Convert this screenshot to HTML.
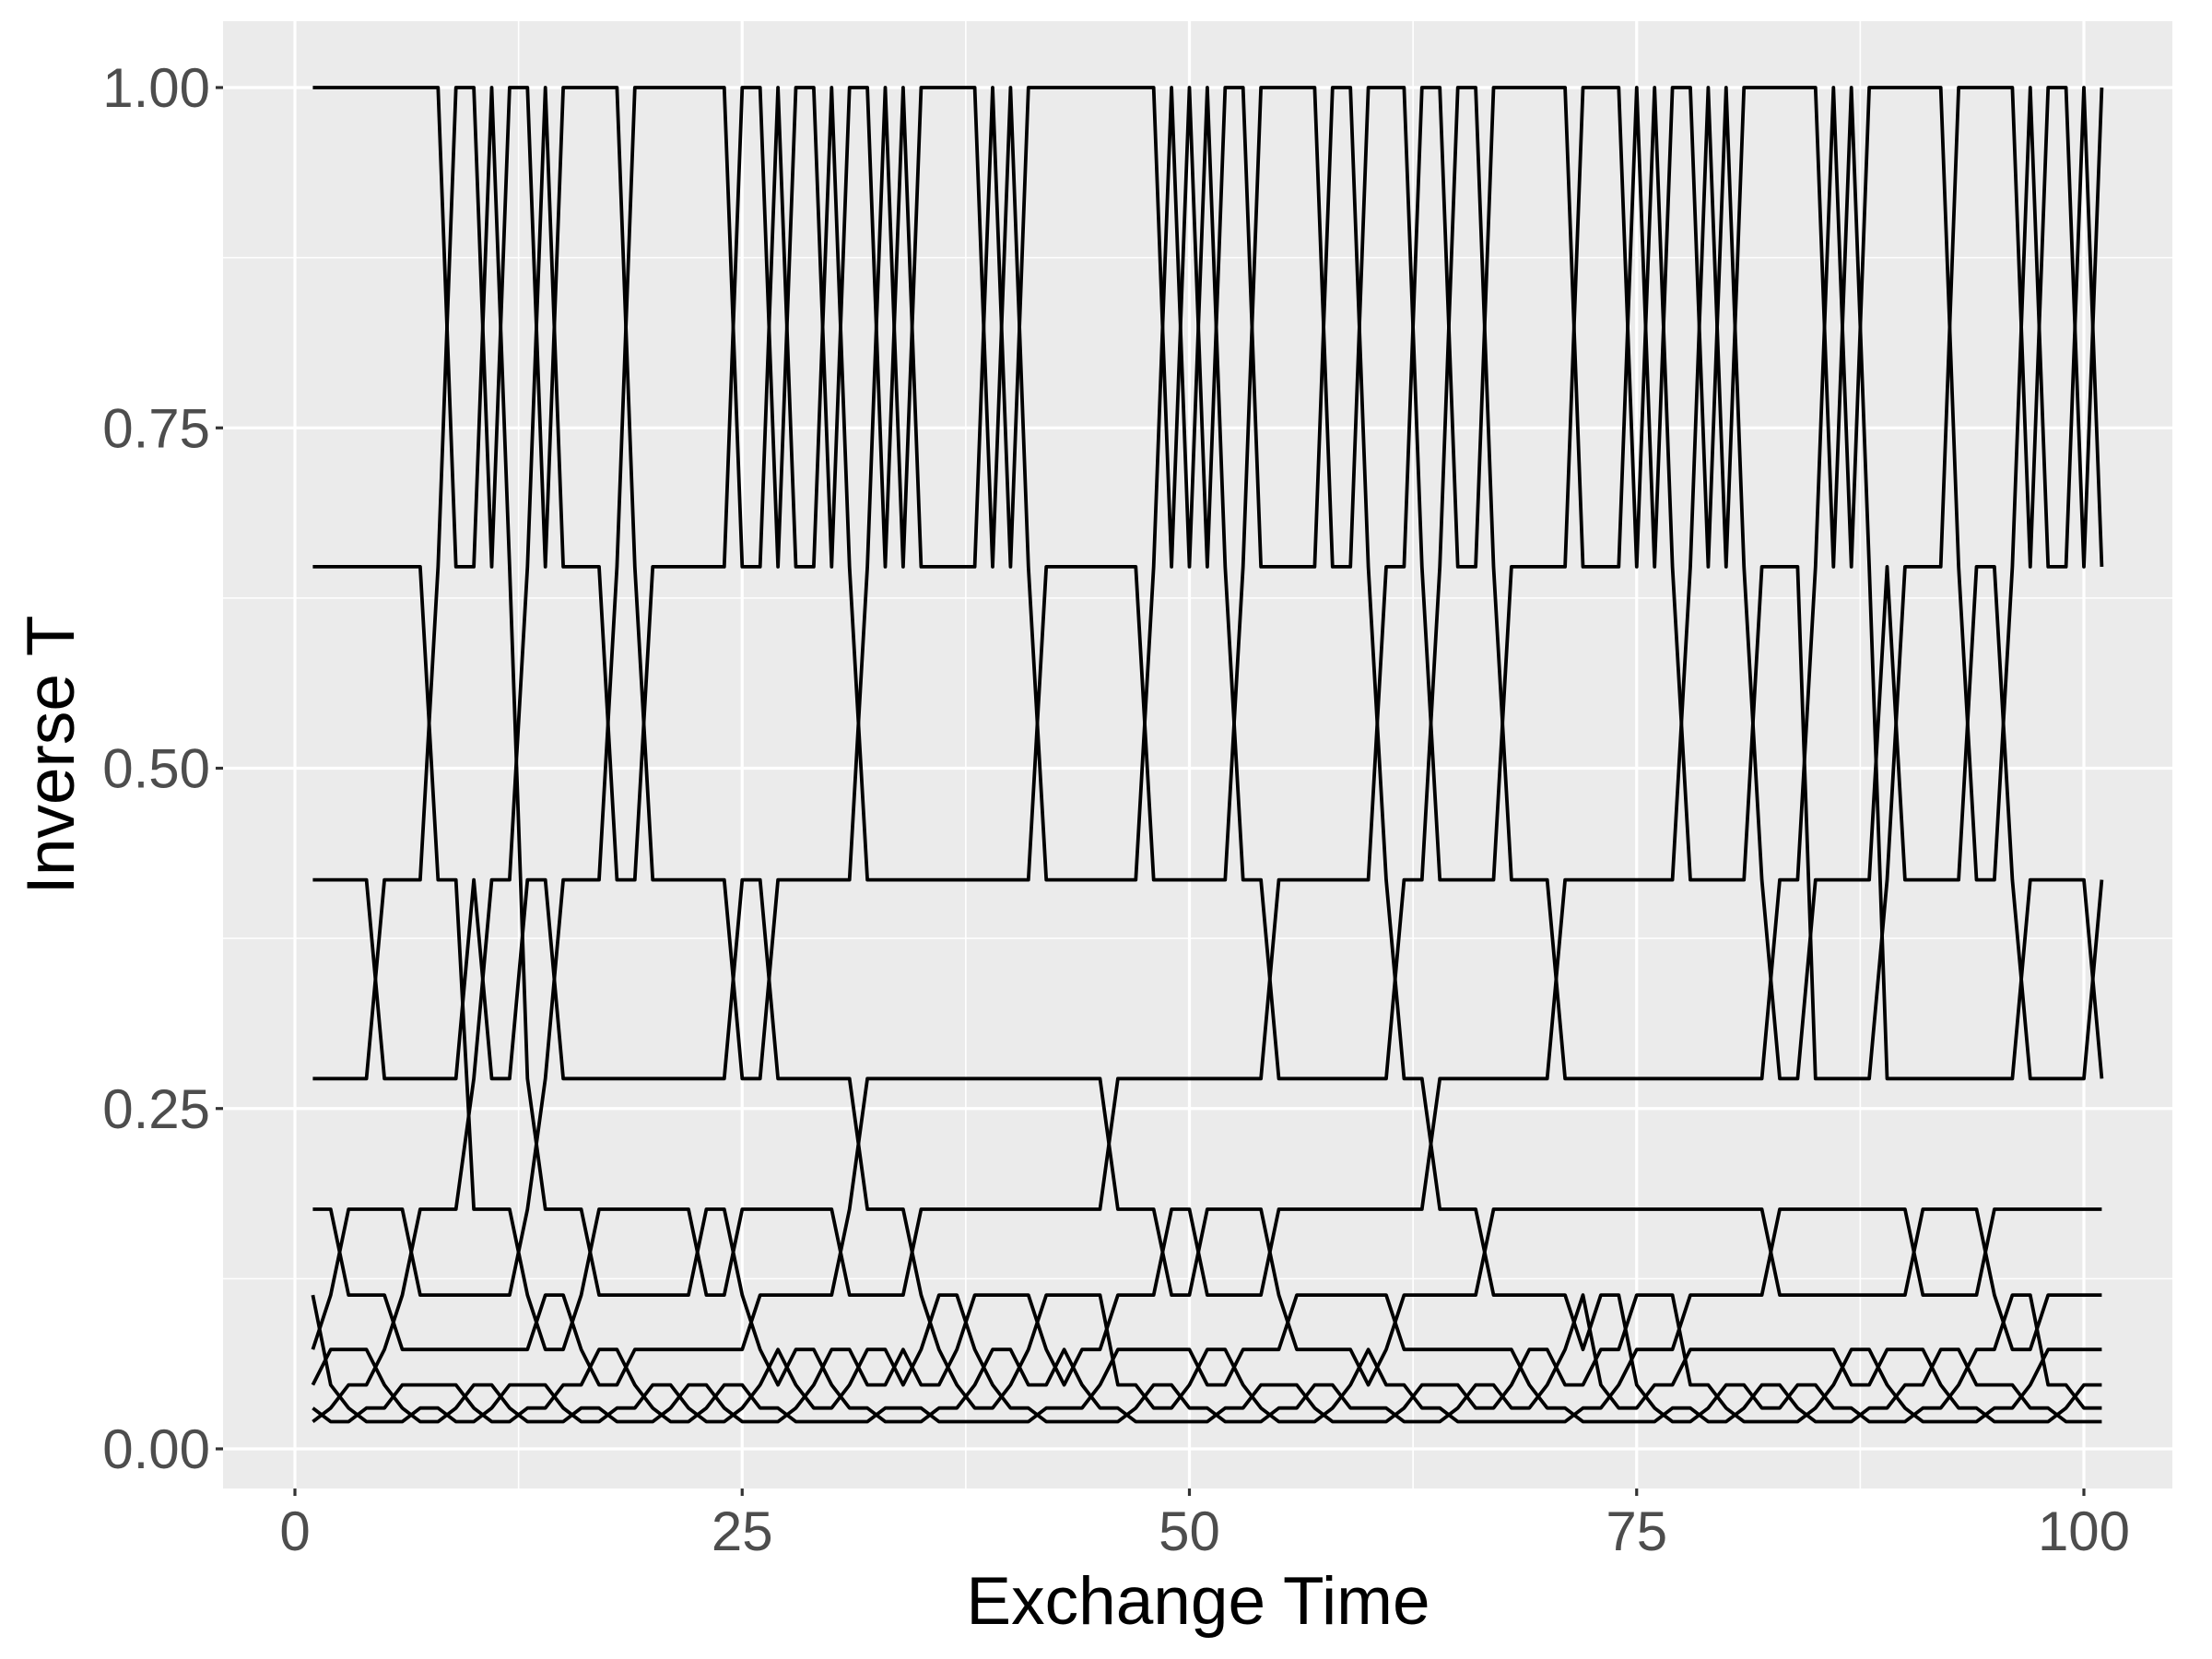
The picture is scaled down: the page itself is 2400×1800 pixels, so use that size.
<!DOCTYPE html>
<html><head><meta charset="utf-8"><style>
html,body{margin:0;padding:0;background:#fff;}
svg{display:block;font-family:"Liberation Sans",sans-serif;}
</style></head><body>
<svg id="chart" width="2400" height="1800" viewBox="0 0 2400 1800" xmlns="http://www.w3.org/2000/svg">
<rect x="0" y="0" width="2400" height="1800" fill="#fff"/>
<rect x="242" y="23" width="2115" height="1592" fill="#EBEBEB"/>
<g id="grid"></g>
<g id="lines"></g>
<g id="axes"></g>
<text x="1300" y="1762" font-size="73" text-anchor="middle" fill="#000">Exchange Time</text>
<text transform="translate(80,819) rotate(-90)" font-size="73" text-anchor="middle" fill="#000">Inverse T</text>
</svg>
<script>
const levels = [1.0, 0.648, 0.418, 0.272, 0.176, 0.113, 0.073, 0.047, 0.030, 0.020];
const xTicks = [0, 25, 50, 75, 100];
const xTickLabels = ["0", "25", "50", "75", "100"];
const yTicks = [0, 0.25, 0.5, 0.75, 1.0];
const yTickLabels = ["0.00", "0.25", "0.50", "0.75", "1.00"];
const nTimes = 101;
const swaps0 = [8,10,11,13,14,18,24,26,27,29,30,32,33,34,38,39,40,48,49,50,51,53,57,59,62,64,66,71,74,75,76,78,79,80,85,86,87,92,96,97,99,100];
const swaps1 = [7,12,17,19,31,41,47,52,60,63,67,77,81,84,88,89,93,95];
const swaps2 = [4,9,10,12,14,24,26,54,61,70,82,84,88,96,100];
const swaps3 = [9,13,31,45,63];
const swaps4 = [2,6,12,16,22,24,30,34,48,50,54,66,82,90,94];
const swaps5 = [1,5,13,15,25,35,37,41,45,55,61,71,72,74,77,95,97];
const swaps6 = [1,4,16,18,26,27,29,31,33,34,36,38,40,42,43,45,50,52,59,60,68,70,72,74,77,86,88,91,93,97];
const swaps7 = [2,5,9,11,14,19,21,23,25,28,30,37,39,44,47,49,53,56,58,62,65,67,69,73,75,79,81,83,85,89,92,96,99];
const swaps8 = [1,3,6,8,10,12,15,17,20,22,24,27,32,35,41,46,51,54,57,61,64,71,76,78,80,84,87,90,94,98];
const allSwaps = [swaps0,swaps1,swaps2,swaps3,swaps4,swaps5,swaps6,swaps7,swaps8];

const NS="http://www.w3.org/2000/svg";
const X0=320, X1=2261, Y0=1572, Y1=95, PL=242, PR=2357, PT=23, PB=1615;
const sx = v => X0 + (X1-X0)*v/100;
const sy = v => Y0 + (Y1-Y0)*v;
function mk(tag, attrs, parent){const e=document.createElementNS(NS,tag);for(const k in attrs)e.setAttribute(k,attrs[k]);parent.appendChild(e);return e;}

const grid=document.getElementById('grid');
[0.125,0.375,0.625,0.875].forEach(v=>{
  const l=mk('line',{x1:PL,x2:PR,y1:sy(v),y2:sy(v),stroke:'#fff','stroke-width':1.6},grid);
  
  
});
[12.5,37.5,62.5,87.5].forEach(v=>{
  const l=mk('line',{x1:sx(v),x2:sx(v),y1:PT,y2:PB,stroke:'#fff','stroke-width':1.6},grid);
  
  
});
yTicks.forEach(v=>{
  const l=mk('line',{x1:PL,x2:PR,y1:sy(v),y2:sy(v),stroke:'#fff','stroke-width':3.2},grid);
  
  
});
xTicks.forEach(v=>{
  const l=mk('line',{x1:sx(v),x2:sx(v),y1:PT,y2:PB,stroke:'#fff','stroke-width':3.2},grid);
  
  
});

const n=levels.length;
let pos=[]; for(let r=0;r<n;r++)pos.push(r);
const paths=[]; for(let r=0;r<n;r++)paths.push([]);
for(let t=1;t<=nTimes;t++){
  for(let L=0;L<n;L++) paths[pos[L]].push([t,levels[L]]);
  for(let k=0;k<allSwaps.length;k++){
    if(allSwaps[k].indexOf(t)>=0){const a=pos[k];pos[k]=pos[k+1];pos[k+1]=a;}
  }
}
const lines=document.getElementById('lines');
paths.forEach((p,i)=>{
  const d=p.map((q,j)=>(j?'L':'M')+sx(q[0]).toFixed(1)+','+sy(q[1]).toFixed(1)).join(' ');
  const e=mk('path',{d:d,fill:'none',stroke:'#000','stroke-width':3.8,'stroke-linejoin':'round'},lines);
  
  
});

const axes=document.getElementById('axes');
yTicks.forEach((v,i)=>{
  const t=mk('line',{x1:PL-8,x2:PL,y1:sy(v),y2:sy(v),stroke:'#333','stroke-width':3.2},axes);
  
  
  const tx=mk('text',{x:PL-14,y:sy(v)+21,'font-size':60,'text-anchor':'end',fill:'#4D4D4D'},axes);
  tx.textContent=yTickLabels[i];
  
  
});
xTicks.forEach((v,i)=>{
  const t=mk('line',{x1:sx(v),x2:sx(v),y1:PB,y2:PB+8,stroke:'#333','stroke-width':3.2},axes);
  
  
  const tx=mk('text',{x:sx(v),y:PB+67,'font-size':60,'text-anchor':'middle',fill:'#4D4D4D'},axes);
  tx.textContent=xTickLabels[i];
  
  
});
</script>
</body></html>
